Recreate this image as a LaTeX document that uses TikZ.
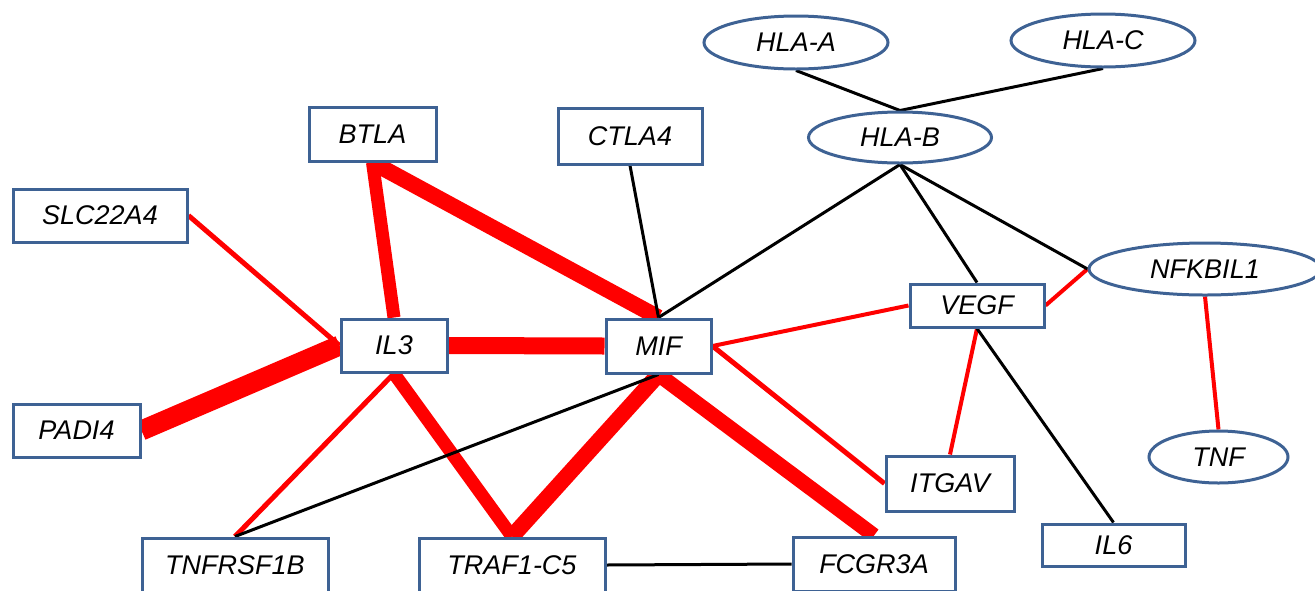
\documentclass[tikz,border=0pt]{standalone}
\usepackage{fontspec}
\setmainfont{Liberation Sans}
\usetikzlibrary{shapes.geometric,backgrounds}
\definecolor{bordblue}{RGB}{62,98,148}
\definecolor{edgered}{RGB}{255,0,0}
\tikzset{
  gene/.style={draw=bordblue, line width=3pt, fill=white, inner sep=0pt,
    font=\fontsize{27}{32}\selectfont\itshape},
  genebox/.style={gene, rectangle},
  geneell/.style={gene, ellipse},
  redlink/.style={draw=edgered},
  blacklink/.style={draw=black, line width=3pt},
}
\begin{document}
\begin{tikzpicture}[x=1pt,y=-1pt]
\useasboundingbox (0,0) rectangle (1315,590);
\clip (0,0) rectangle (1315,590);
% nodes
\node[genebox, minimum width=127pt, minimum height=54pt] (BTLA) at (372.5,134) {BTLA};
\node[genebox, minimum width=174pt, minimum height=53pt] (SLC) at (100,215.5) {SLC22A4};
\node[genebox, minimum width=106pt, minimum height=53pt] (IL3) at (394,345.5) {IL3};
\node[genebox, minimum width=127pt, minimum height=53pt] (PADI4) at (76.5,430.5) {PADI4};
\node[genebox, minimum width=144pt, minimum height=56pt] (CTLA4) at (630,136) {CTLA4};
\node[genebox, minimum width=105pt, minimum height=54pt] (MIF) at (658.5,346) {MIF};
\node[geneell, minimum width=184pt, minimum height=53pt] (HLAA) at (796,42.5) {HLA-A};
\node[geneell, minimum width=184pt, minimum height=53pt] (HLAC) at (1103,40.5) {HLA-C};
\node[geneell, minimum width=183pt, minimum height=51pt] (HLAB) at (900,137.5) {HLA-B};
\node[geneell, minimum width=232pt, minimum height=52pt] (NFK) at (1205,269) {NFKBIL1};
\node[genebox, minimum width=134pt, minimum height=43pt] (VEGF) at (977,305.5) {VEGF};
\node[genebox, minimum width=128pt, minimum height=55pt] (ITGAV) at (950,483.5) {ITGAV};
\node[geneell, minimum width=139pt, minimum height=52pt] (TNF) at (1218.5,457) {TNF};
\node[genebox, minimum width=143pt, minimum height=42pt] (IL6) at (1113.5,545) {IL6};
\node[genebox, minimum width=162pt, minimum height=54pt] (FCGR) at (874,564) {FCGR3A};
\node[genebox, minimum width=186pt, minimum height=54pt] (TNFR) at (235,565) {TNFRSF1B};
\node[genebox, minimum width=186pt, minimum height=54pt] (TRAF) at (512,565) {TRAF1-C5};
% edges
\begin{scope}[on background layer]
\draw[redlink, line width=20pt] (PADI4.east) -- (IL3.west);
\draw[redlink, line width=17pt] (IL3.east) -- (MIF.west);
\draw[redlink, line width=16pt] (BTLA.south) -- (MIF.north);
\draw[redlink, line width=13pt] (BTLA.south) -- (IL3.north);
\draw[redlink, line width=13pt] (IL3.south) -- (TRAF.north);
\draw[redlink, line width=16pt] (MIF.south) -- (TRAF.north);
\draw[redlink, line width=15pt] (MIF.south) -- (FCGR.north);
\draw[redlink, line width=5pt] (SLC.east) -- (IL3.west);
\draw[redlink, line width=5pt] (IL3.south) -- (TNFR.north);
\draw[redlink, line width=5pt] (MIF.east) -- (ITGAV.west);
\draw[redlink, line width=4pt] (MIF.east) -- (VEGF.west);
\draw[redlink, line width=4pt] (VEGF.east) -- (NFK.west);
\draw[redlink, line width=4pt] (VEGF.south) -- (ITGAV.north);
\draw[redlink, line width=4pt] (NFK.south) -- (TNF.north);
\draw[blacklink] (HLAA.south) -- (HLAB.north);
\draw[blacklink] (HLAC.south) -- (HLAB.north);
\draw[blacklink] (HLAB.south) -- (MIF.north);
\draw[blacklink] (HLAB.south) -- (VEGF.north);
\draw[blacklink] (HLAB.south) -- (NFK.west);
\draw[blacklink] (CTLA4.south) -- (MIF.north);
\draw[blacklink] (VEGF.south) -- (IL6.north);
\draw[blacklink] (MIF.south) -- (TNFR.north);
\draw[blacklink] (TRAF.east) -- (FCGR.west);
\end{scope}
\end{tikzpicture}
\end{document}
